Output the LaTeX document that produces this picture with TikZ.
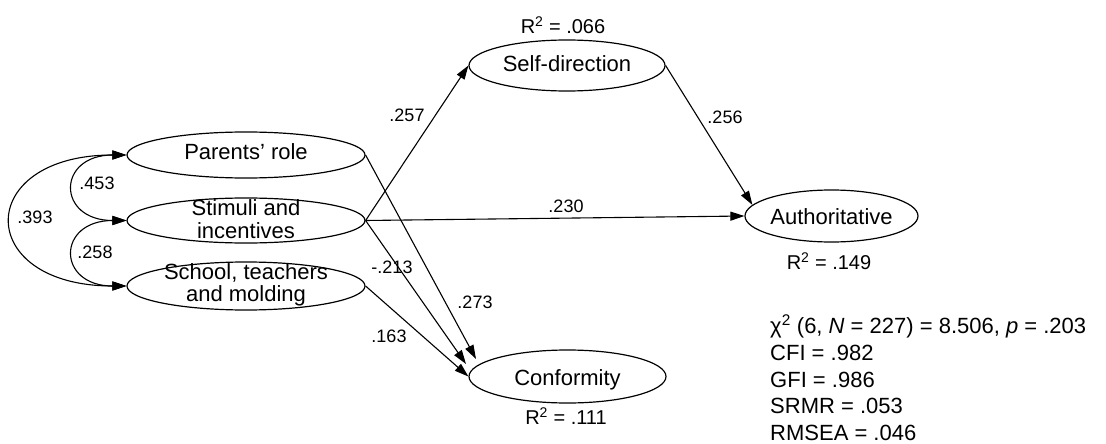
\documentclass[tikz,border=0pt]{standalone}
\usepackage{fontspec}
\setmainfont{Liberation Sans}
\usetikzlibrary{shapes.geometric,arrows.meta}
\begin{document}
\begin{tikzpicture}[x=1pt,y=-1pt,
  ell/.style={draw, ellipse, line width=1.2pt, inner sep=0pt},
  ntext/.style={align=center, font=\fontsize{22}{22.5}\selectfont, inner sep=0pt},
  ntextb/.style={font=\fontsize{22}{22.5}\selectfont, inner sep=0pt, anchor=base},
  elab/.style={font=\fontsize{18}{20}\selectfont, inner sep=0pt},
  rlab/.style={font=\fontsize{20}{22}\selectfont, inner sep=0pt},
  stat/.style={font=\fontsize{22}{26}\selectfont, inner sep=0pt, anchor=base west},
  conn/.style={line width=1.1pt, -{Triangle[length=14pt,width=9pt]}},
  cov/.style={line width=1.1pt, {Triangle[length=14pt,width=9pt]}-{Triangle[length=14pt,width=9pt]}}
]
\useasboundingbox (0,0) rectangle (1106,444);

% ellipses
\node[ell, minimum width=238pt, minimum height=46pt] (parents) at (246,155) {};
\node[ell, minimum width=238pt, minimum height=45pt] (stim) at (246,220.5) {};
\node[ell, minimum width=238pt, minimum height=48pt] (school) at (246,286) {};
\node[ell, minimum width=196pt, minimum height=51pt] (sd) at (567,65.5) {};
\node[ell, minimum width=173pt, minimum height=52pt] (auth) at (831.5,216) {};
\node[ell, minimum width=197pt, minimum height=53pt] (conf) at (567.5,376.5) {};

% node texts
\node[ntextb] (parentsT) at (246,159.3) {Parents’ role};
\node[ntext] (stimT) at (246,219.3) {Stimuli and\\incentives};
\node[ntext] (schoolT) at (246,284.9) {School, teachers\\and molding};
\node[ntextb] (sdT) at (567,72) {Self-direction};
\node[ntextb] (authT) at (831.5,224) {Authoritative};
\node[ntextb] (confT) at (567.5,385) {Conformity};

% R squared
\node[rlab] (r1) at (563,25) {R\textsuperscript{2} = .066};
\node[rlab] (r2) at (829,261) {R\textsuperscript{2} = .149};
\node[rlab] (r3) at (566,416) {R\textsuperscript{2} = .111};

% target points near Conformity
\coordinate (cp) at (476,359);
\coordinate (cs) at (466,364);

% regression paths
\draw[conn] (stim.east) -- (sd.west);
\draw[conn] (stim.east) -- (auth.west);
\draw[conn] (sd.east) -- (auth.172);
\draw[conn] (parents.east) -- (cp);
\draw[conn] (stim.east) -- (cs);
\draw[conn] (school.east) -- (conf.west);

% covariances
\draw[cov] (school.west) .. controls +(-153,0) and +(-153,0) .. (parents.west);
\draw[cov] (stim.west) .. controls +(-70,0) and +(-70,0) .. (parents.west);
\draw[cov] (school.west) .. controls +(-70,0) and +(-70,0) .. (stim.west);

% path labels
\node[elab] (l257) at (407,115) {.257};
\node[elab] (l256) at (725,117) {.256};
\node[elab] (l230) at (566,206) {.230};
\node[elab] (l213) at (392,267) {-.213};
\node[elab] (l273) at (475,302) {.273};
\node[elab] (l163) at (389,336) {.163};
\node[elab] (l453) at (97,183) {.453};
\node[elab] (l258) at (95,252) {.258};
\node[elab] (l393) at (35,217) {.393};

% fit statistics
\node[stat] (s1) at (770,333) {χ\textsuperscript{2} (6, \textit{N} = 227) = 8.506, \textit{p} = .203};
\node[stat] (s2) at (770,360) {CFI = .982};
\node[stat] (s3) at (770,387) {GFI = .986};
\node[stat] (s4) at (770,413) {SRMR = .053};
\node[stat] (s5) at (770,440) {RMSEA = .046};
\end{tikzpicture}
\end{document}
